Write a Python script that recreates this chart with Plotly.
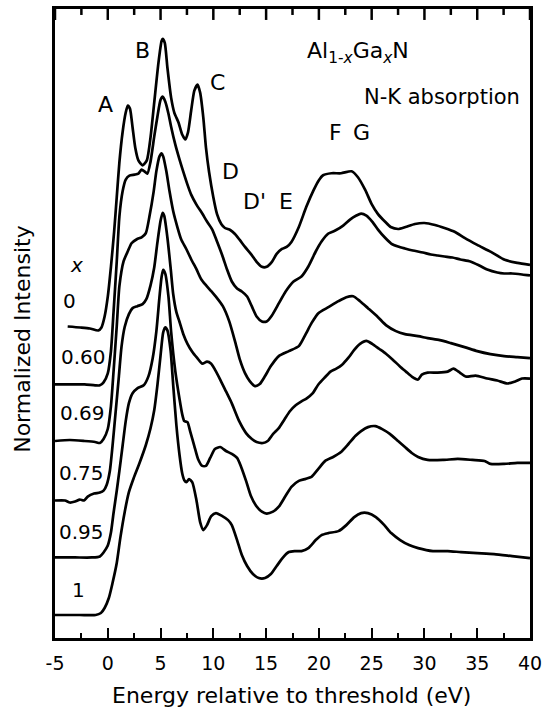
import plotly.graph_objects as go

# ---- data (energy in eV, intensity in arbitrary units) ----
compositions = ["0", "0.60", "0.69", "0.75", "0.95", "1"]

e_x000 = [-3.8,-2.6,-1.7,-0.9,-0.6,-0.3,0,0.3,0.6,0.85,1.1,1.4,1.7,1.9,2.1,2.35,2.6,2.9,3.3,3.7,4.05,4.4,4.8,5.1,5.2,5.4,5.65,6.0,6.3,6.7,7.05,7.35,7.6,7.9,8.2,8.5,8.75,9.05,9.3,9.6,10.0,10.35,10.75,11.1,11.6,12.05,12.5,13.0,13.55,14.1,14.6,15.05,15.55,16.0,16.5,16.95,17.4,18.1,18.8,19.5,20.0,20.4,21.2,22.1,23.1,23.7,24.4,25.0,25.6,26.3,26.8,27.5,28.2,29.1,30.0,31.0,31.9,32.9,33.8,35.0,36.3,37.6,38.8,40.0]
i_x000 = [0,-1,-2,-4,-1,10,30,60,95,130,165,195,215,222,219,200,180,167,162,167,190,225,265,287,289,285,260,230,215,205,193,188,195,217,237,243,235,210,180,155,130,113,103,99,97,93,87,80,73,65,60,60,65,73,78,80,85,100,120,137,147,152,154,154,156,150,137,123,113,105,100,98,100,103,104,102,99,95,89,82,75,67,64,62]

e_x060 = [-5.0,-3.6,-2.2,-1.2,-0.75,-0.4,0,0.3,0.55,0.85,1.1,1.4,1.7,2.05,2.55,2.9,3.2,3.5,3.75,4.05,4.4,4.7,5.0,5.2,5.45,5.75,6.0,6.4,6.8,7.15,7.55,7.9,8.4,8.95,9.4,9.9,10.35,10.85,11.3,11.75,12.25,12.7,13.2,13.65,14.1,14.6,15.05,15.55,16.2,16.85,17.6,18.35,19.0,19.7,20.25,20.9,21.55,22.3,22.95,23.55,24.0,24.5,25.05,25.6,26.25,26.85,27.5,28.15,28.9,29.85,30.6,31.25,31.9,32.65,33.4,34.35,35.2,35.95,36.9,37.55,38.3,39.25,40.0]
i_x060 = [0,0,0,-1,-1,2,11,33,73,123,168,193,205,209,210,211,215,213,211,223,248,268,285,288,283,271,258,240,225,213,200,190,180,171,163,155,143,129,115,103,96,93,88,78,68,63,63,69,81,93,103,108,118,133,143,151,154,159,165,169,171,169,163,155,147,141,138,136,134,132,130,129,128,127,125,123,119,115,112,111,111,110,109]

e_x069 = [-5.0,-3.6,-2.2,-1.2,-0.75,-0.4,0,0.3,0.55,0.85,1.1,1.5,1.9,2.25,2.75,3.2,3.6,3.95,4.35,4.6,4.9,5.1,5.25,5.55,5.85,6.2,6.6,6.95,7.45,7.9,8.4,8.85,9.3,9.8,10.35,10.9,11.5,12.05,12.5,13.0,13.45,13.95,14.4,14.9,15.45,16.2,17.15,18.1,18.75,19.3,19.95,20.9,21.85,22.6,23.25,23.9,24.65,25.6,26.35,27.3,28.15,29.4,30.3,31.45,32.5,33.8,35.0,36.25,37.55,38.8,40.0]
i_x069 = [0,1,0,-1,-2,2,12,35,70,115,155,180,190,198,202,204,208,225,250,270,285,288,285,270,250,230,214,202,192,182,172,162,156,150,143,135,120,100,82,68,60,55,57,65,75,85,90,95,107,118,128,134,140,144,145,140,133,124,116,110,107,105,103,101,98,94,90,87,85,84,83]

e_x075 = [-5.0,-4.05,-3.6,-3.1,-2.65,-2.25,-1.9,-1.3,-0.75,-0.4,-0.1,0.2,0.45,0.75,1.05,1.3,1.6,2.0,2.35,2.8,3.3,3.65,4.05,4.4,4.7,5.0,5.2,5.35,5.65,5.95,6.2,6.5,6.8,7.15,7.55,8.0,8.45,8.95,9.4,9.8,10.15,10.65,11.2,11.75,12.45,13.1,13.65,14.1,14.7,15.15,15.65,16.2,16.75,17.25,17.8,18.35,18.85,19.4,19.95,20.55,21.1,21.65,22.2,22.8,23.35,23.9,24.5,25.05,25.7,26.35,27.0,27.7,28.25,28.8,29.4,29.75,30.3,31.25,32.2,32.75,33.35,33.9,34.85,35.95,36.9,37.85,38.6,39.25,40.0]
i_x075 = [0,0,-2,-1,1,0,4,7,8,10,16,30,55,90,125,155,175,188,194,196,198,203,217,235,260,282,290,287,265,235,208,190,180,168,158,150,144,138,140,138,132,122,110,98,80,68,62,59,58,60,67,73,82,90,96,100,103,108,117,124,130,133,137,144,152,158,161,158,153,148,142,135,130,125,122,127,129,129,130,133,129,125,126,123,121,118,120,123,123]

e_x095 = [-5.0,-3.1,-1.5,-0.75,-0.4,0,0.3,0.55,0.85,1.1,1.4,1.7,2.0,2.35,2.8,3.4,3.85,4.25,4.6,4.9,5.1,5.25,5.45,5.75,6.0,6.4,6.8,7.05,7.25,7.55,7.8,8.2,8.55,8.95,9.3,9.7,10.15,10.65,11.2,11.75,12.25,12.6,13.1,13.55,14.05,14.6,15.05,15.65,16.2,16.85,17.4,18.1,18.75,19.3,19.95,20.6,21.35,22.1,22.8,23.45,24.0,24.65,25.35,26.0,26.75,27.5,28.15,28.8,29.4,30.3,31.75,33.15,34.55,35.7,36.25,37.55,38.8,40.0]
i_x095 = [0,0,0,1,5,12,25,45,67,87,112,137,155,165,170,173,182,200,227,262,282,289,285,262,227,187,159,144,137,136,127,112,99,92,92,100,109,111,107,104,100,92,77,62,52,46,44,46,51,62,71,77,79,81,89,97,101,106,114,122,127,131,132,129,124,117,111,105,101,98,98,99,98,97,94,94,95,95]

e_x100 = [-5.0,-2.65,-1.15,-0.65,-0.3,0.1,0.45,0.85,1.2,1.6,2.0,2.45,3.0,3.6,4.05,4.4,4.7,5.0,5.25,5.45,5.65,5.95,6.2,6.5,6.8,7.05,7.25,7.45,7.7,8.0,8.4,8.75,9.05,9.4,9.8,10.25,10.85,11.4,11.75,12.25,12.7,13.2,13.75,14.3,14.9,15.45,16.0,16.55,17.15,17.7,18.35,19.0,19.7,20.25,20.9,21.85,22.6,23.35,24.0,24.65,25.4,26.2,26.85,27.7,28.55,29.4,30.8,32.2,33.45,35.0,36.6,38.3,40.0]
i_x100 = [0,0,0,2,7,17,32,52,78,103,123,137,152,170,187,205,230,260,283,288,285,265,230,190,160,142,135,133,136,133,115,93,85,90,99,102,99,95,90,75,60,49,41,37,37,41,49,57,63,64,64,67,75,80,82,84,90,98,102,102,98,90,82,75,70,67,64,64,63,62,61,59,57]

peak_labels = ["A", "B", "C", "D", "D'", "E", "F", "G"]
x_tick_values = [-5, 0, 5, 10, 15, 20, 25, 30, 35, 40]
x_tick_labels = ["-5", "0", "5", "10", "15", "20", "25", "30", "35", "40"]

# ---- layout choices (not data) ----
stack_offset = [1.083, 0.882, 0.685, 0.478, 0.280, 0.080]
peak_label_pos = [(-0.19, 1.855), (3.30, 2.042), (10.36, 1.931), (11.58, 1.623),
                  (13.94, 1.519), (16.85, 1.516), (21.56, 1.758), (24.01, 1.758)]
comp_label_pos = [(-3.67, 1.173), (-2.26, 0.976), (-2.35, 0.782),
                  (-2.45, 0.574), (-2.45, 0.370), (-2.73, 0.166)]

FONT = "DejaVu Sans"
X_RANGE = [-5, 40]
Y_RANGE = [0, 2.187]
PLOT_H = 711 - 6 - 73  # plot-area height in px
Y_PER_PX = (Y_RANGE[1] - Y_RANGE[0]) / PLOT_H

series = [(e_x000, i_x000), (e_x060, i_x060), (e_x069, i_x069),
          (e_x075, i_x075), (e_x095, i_x095), (e_x100, i_x100)]

fig = go.Figure()
for (e, inten), off, comp in zip(series, stack_offset, compositions):
    if len(e) != len(inten):
        raise ValueError(f"length mismatch for x={comp}: {len(e)} vs {len(inten)}")
    peak = max(inten)
    y = [v / peak + off for v in inten]
    fig.add_trace(go.Scatter(x=e, y=y, mode="lines", name=f"x={comp}",
                             line=dict(color="black", width=2.7, shape="spline", smoothing=0.6),
                             showlegend=False, hoverinfo="skip"))

annotations = []
for txt, (ax, ay) in zip(peak_labels, peak_label_pos):
    annotations.append(dict(x=ax, y=ay, xref="x", yref="y", text=txt, showarrow=False,
                            xanchor="center", yanchor="middle",
                            font=dict(family=FONT, size=22, color="black")))
for txt, (ax, ay) in zip(compositions, comp_label_pos):
    annotations.append(dict(x=ax, y=ay, xref="x", yref="y", text=txt, showarrow=False,
                            xanchor="center", yanchor="middle",
                            font=dict(family=FONT, size=20, color="black")))
annotations.append(dict(x=-2.92, y=1.298, xref="x", yref="y", text="<i>x</i>", showarrow=False,
                        xanchor="center", yanchor="middle",
                        font=dict(family=FONT, size=20, color="black")))
annotations.append(dict(x=23.73, y=2.035, xref="x", yref="y",
                        text="Al<sub>1-<i>x</i></sub>Ga<sub><i>x</i></sub>N", showarrow=False,
                        xanchor="center", yanchor="middle",
                        font=dict(family=FONT, size=22, color="black")))
annotations.append(dict(x=31.64, y=1.882, xref="x", yref="y", text="N-K absorption", showarrow=False,
                        xanchor="center", yanchor="middle",
                        font=dict(family=FONT, size=21, color="black")))
# axis titles
annotations.append(dict(x=0.497, y=-0.092, xref="paper", yref="paper",
                        text="Energy relative to threshold (eV)", showarrow=False,
                        xanchor="center", yanchor="middle",
                        font=dict(family=FONT, size=22, color="black")))
annotations.append(dict(x=-0.069, y=0.476, xref="paper", yref="paper",
                        text="Normalized Intensity", showarrow=False, textangle=-90,
                        xanchor="center", yanchor="middle",
                        font=dict(family=FONT, size=22, color="black")))

# inward tick marks along the top frame, at the same positions as the bottom axis ticks
shapes = []
minor_vals = [(a + b) / 2 for a, b in zip(x_tick_values[:-1], x_tick_values[1:])]
top = Y_RANGE[1]
for v in x_tick_values:
    shapes.append(dict(type="line", xref="x", yref="y", x0=v, x1=v, layer="above",
                       y0=top, y1=top - 11 * Y_PER_PX, line=dict(color="black", width=2.5)))
for v in minor_vals:
    shapes.append(dict(type="line", xref="x", yref="y", x0=v, x1=v, layer="above",
                       y0=top, y1=top - 6 * Y_PER_PX, line=dict(color="black", width=2.5)))

fig.update_layout(
    width=548, height=711,
    margin=dict(l=55, r=15, t=6, b=73),
    paper_bgcolor="white", plot_bgcolor="white",
    font=dict(family=FONT, color="black"),
    annotations=annotations,
    shapes=shapes,
    xaxis=dict(range=X_RANGE, tickmode="array", tickvals=x_tick_values, ticktext=x_tick_labels,
               ticks="inside", ticklen=10, tickwidth=2, tickcolor="black",
               showline=True, linecolor="black", linewidth=2.5, mirror=True,
               showgrid=False, zeroline=False,
               tickfont=dict(family=FONT, size=19, color="black"),
               ticklabelstandoff=6,
               minor=dict(tick0=-5, dtick=2.5, ticks="inside", ticklen=5, tickwidth=2,
                          tickcolor="black", showgrid=False)),
    yaxis=dict(range=Y_RANGE, showticklabels=False, ticks="", showline=True,
               linecolor="black", linewidth=2.5, mirror=True, showgrid=False, zeroline=False),
)

fig.write_html("out.html", config={"displayModeBar": False},
               post_script="document.body.style.margin='0px';")
